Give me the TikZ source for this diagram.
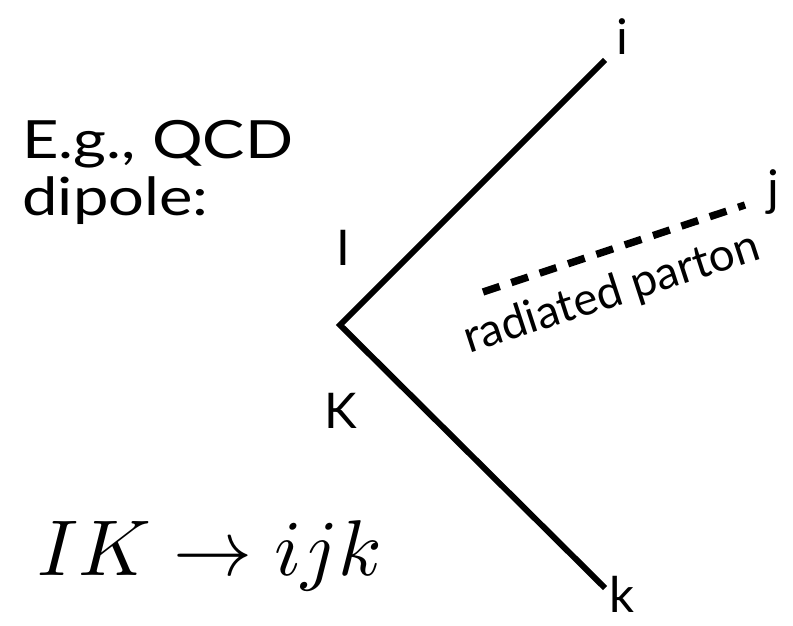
\documentclass[tikz,border=0pt]{standalone}
\usepackage{fontspec}
\setmainfont{Lato}
\usetikzlibrary{positioning}

\begin{document}
\begin{tikzpicture}[
  x=0.02cm, y=-0.02cm,
  leg/.style={line width=3.4pt},
  radiated/.style={line width=4.2pt, dash pattern=on 10pt off 7pt},
  lbl/.style={font=\fontsize{28}{32}\selectfont, inner sep=0pt, anchor=base},
  txt/.style={font=\fontsize{30}{34}\selectfont, xscale=1.2, inner sep=0pt, anchor=base west}
]
\useasboundingbox (0,0) rectangle (793,625);
\coordinate (v) at (340,325);
\coordinate (iend) at (605,60);
\coordinate (kend) at (605,588);
\coordinate (jstart) at (483,292);
\coordinate (jend) at (745,205);
\draw[leg] (iend) -- (v) -- (kend);
\draw[radiated] (jstart) -- (jend);
\node[lbl] (i) at (622,55) {i};
\node[lbl] (j) at (773,205) {j};
\node[lbl] (I) at (343,265) {I};
\node[lbl] (K) at (341,428) {K};
\node[lbl] (k) at (622,612) {k};
\node[txt] (eg) at (22,158) {E.g., QCD};
\node[txt] (dip) at (22,215) {dipole:};
\node[font=\fontsize{26}{30}\selectfont, inner sep=0pt, rotate=18] (rp) at (612,294) {radiated parton};
\node[scale=4.5, inner sep=0pt, anchor=base west] (proc) at (36,575) {$IK \to ijk$};
\end{tikzpicture}
\end{document}
